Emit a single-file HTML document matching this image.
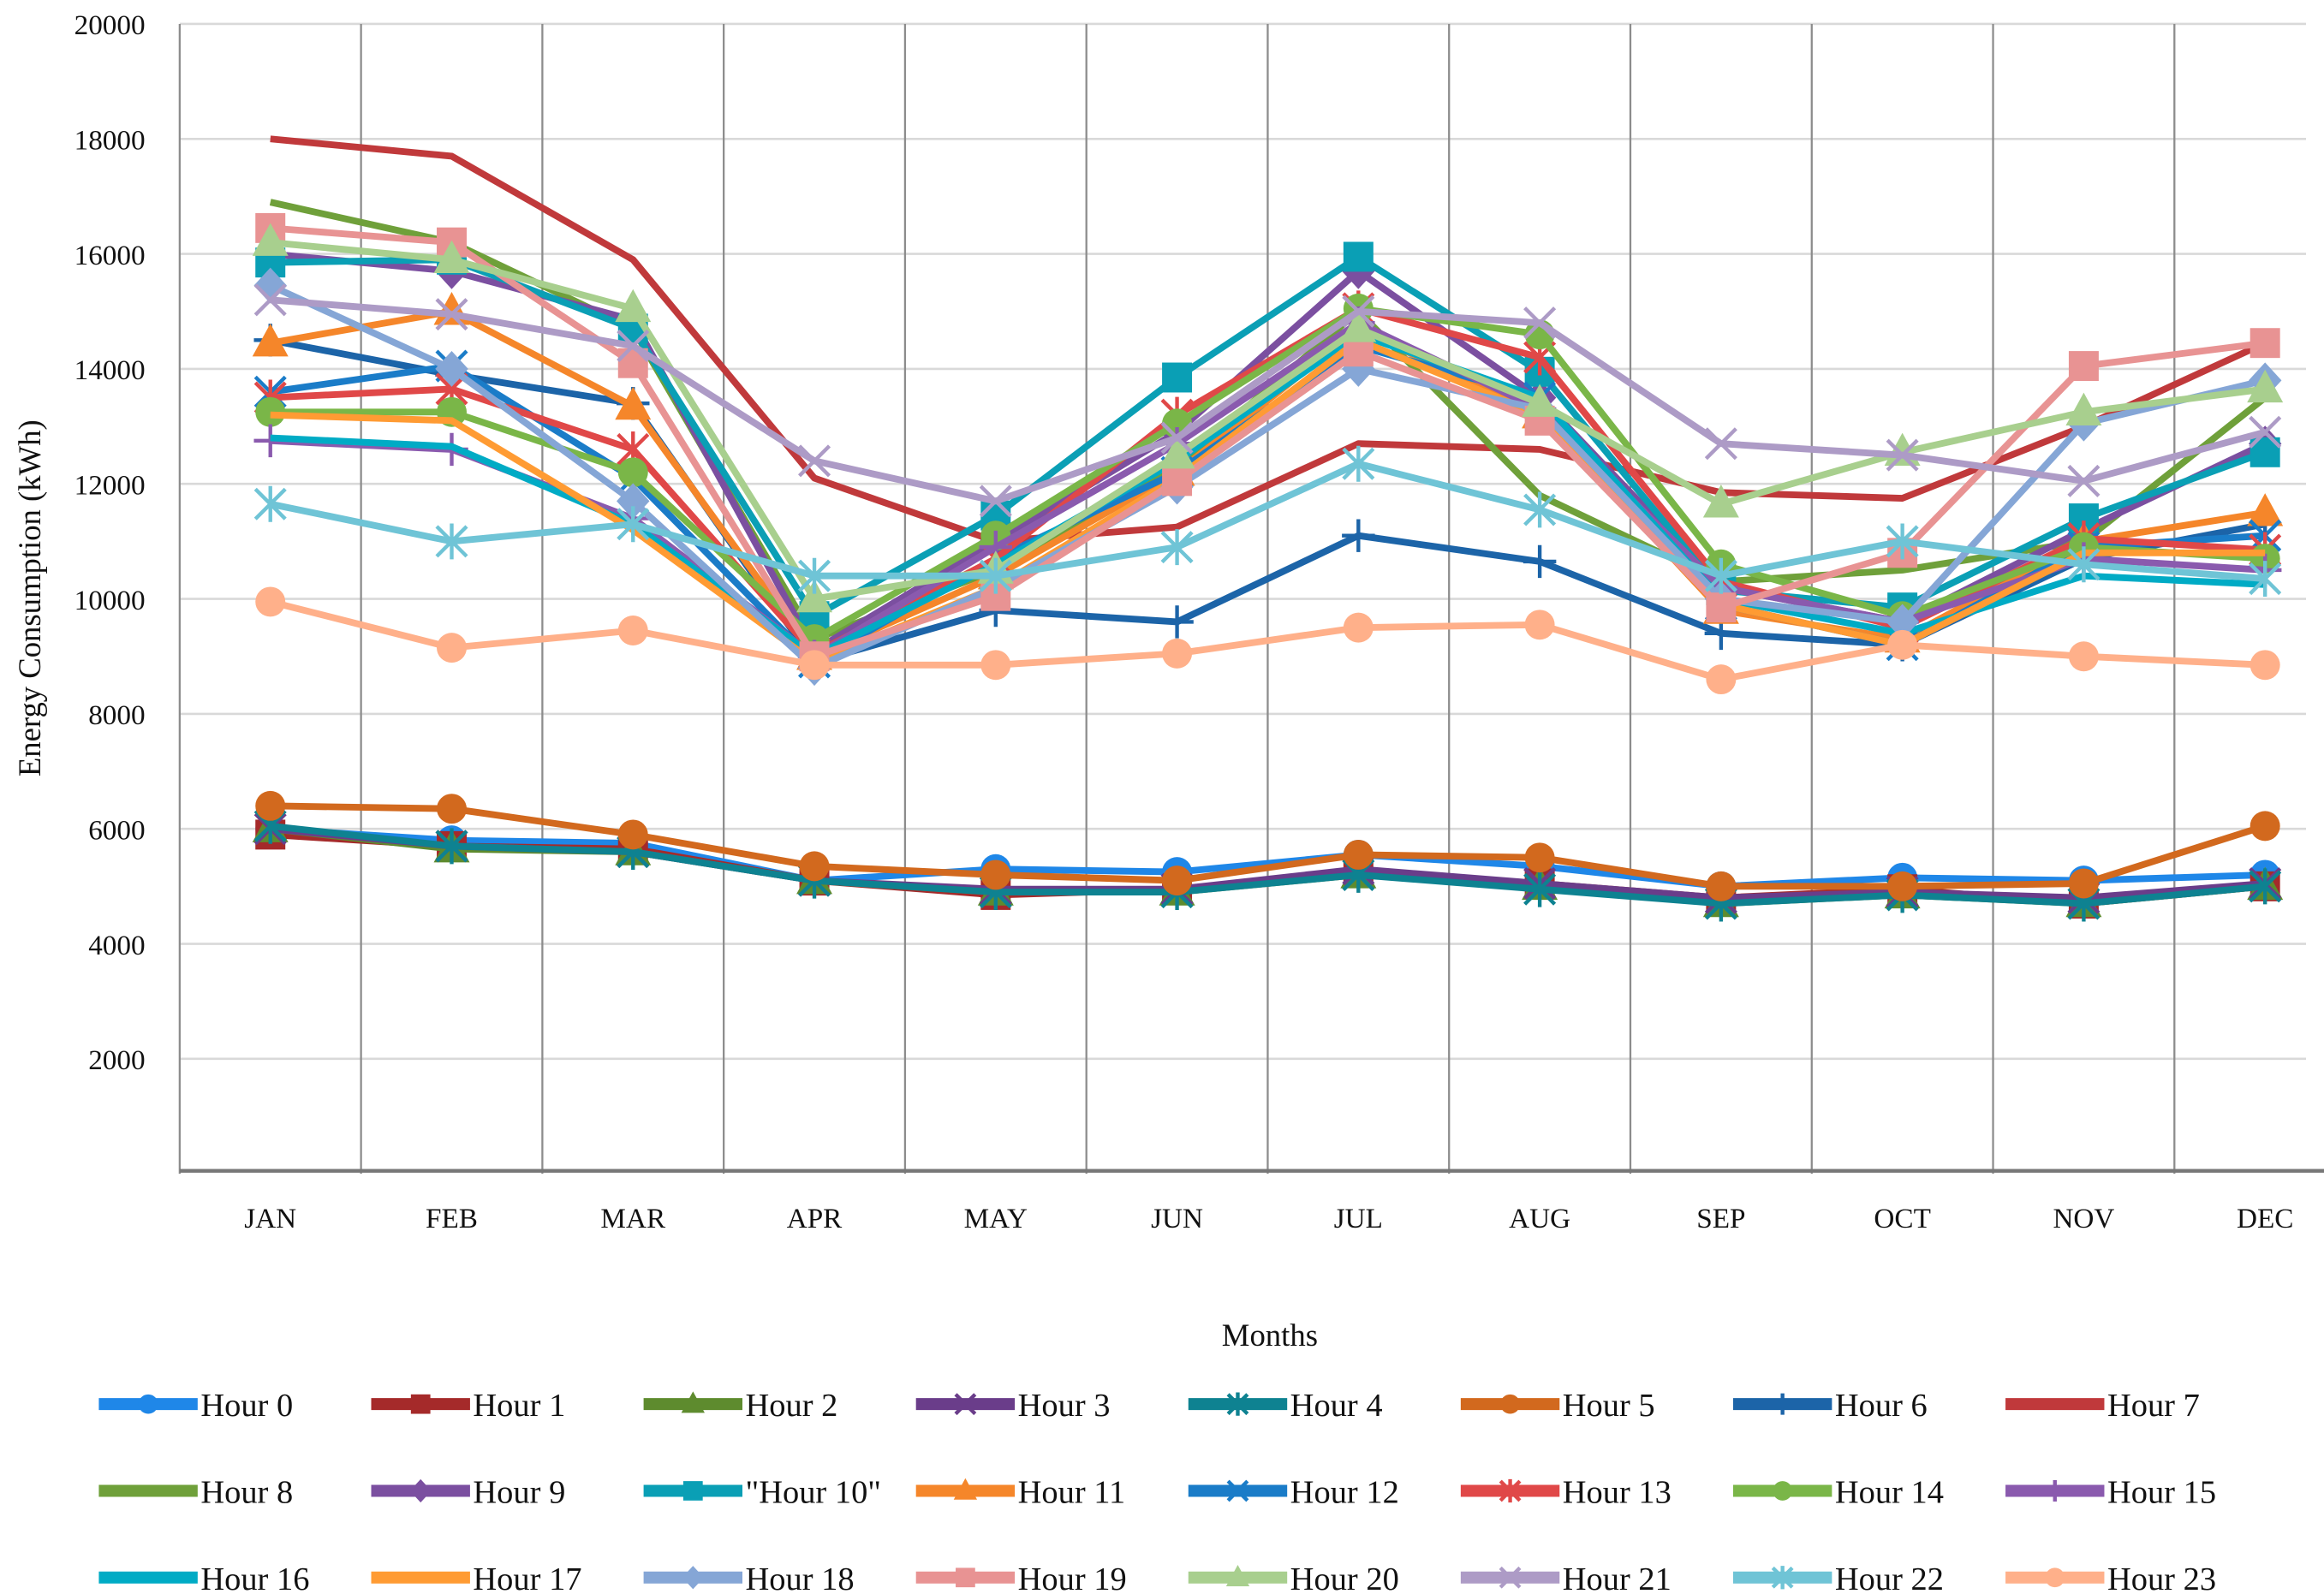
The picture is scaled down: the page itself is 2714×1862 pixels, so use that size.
<!DOCTYPE html>
<html><head><meta charset="utf-8"><style>
html,body{margin:0;padding:0;background:#fff;}
svg{display:block;}
text{font-family:"Liberation Serif",serif;fill:#111;}
</style></head><body>
<svg id="chart" width="2714" height="1862" viewBox="0 0 1552 1066" preserveAspectRatio="none" xmlns="http://www.w3.org/2000/svg">
<g id="grid"></g>
<g id="axes"></g>
<g id="series"></g>
<g id="legend"></g>
<text transform="translate(27,400) rotate(-90)" text-anchor="middle" font-size="21">Energy Consumption (kWh)</text>
<text x="848" y="900" text-anchor="middle" font-size="21">Months</text>
</svg>
<script>
const months = ["JAN","FEB","MAR","APR","MAY","JUN","JUL","AUG","SEP","OCT","NOV","DEC"];
const yTicks = [2000,4000,6000,8000,10000,12000,14000,16000,18000,20000];
const seriesNames = ["Hour 0","Hour 1","Hour 2","Hour 3","Hour 4","Hour 5","Hour 6","Hour 7","Hour 8","Hour 9","\"Hour 10\"","Hour 11","Hour 12","Hour 13","Hour 14","Hour 15","Hour 16","Hour 17","Hour 18","Hour 19","Hour 20","Hour 21","Hour 22","Hour 23"];
const h0 = [6000,5800,5750,5100,5300,5250,5550,5350,5000,5150,5100,5200];
const h1 = [5900,5700,5650,5100,4850,4950,5250,5050,4800,4950,4700,5000];
const h2 = [6000,5650,5600,5100,4900,4900,5200,5000,4700,4850,4700,5000];
const h3 = [6000,5700,5600,5100,4950,4950,5300,5050,4800,4900,4800,5050];
const h4 = [6050,5700,5600,5100,4900,4900,5200,4950,4700,4850,4700,5000];
const h5 = [6400,6350,5900,5350,5200,5100,5550,5500,5000,5000,5050,6050];
const h6 = [14500,13900,13400,8900,9800,9600,11100,10650,9400,9200,10700,11300];
const h7 = [18000,17700,15900,12100,11000,11250,12700,12600,11850,11750,13000,14450];
const h8 = [16900,16200,14700,9300,10500,12300,15000,11800,10300,10500,11000,13500];
const h9 = [16000,15700,14850,9100,11000,12900,15700,13500,10200,9600,11200,12700];
const h10 = [15850,15900,14700,9700,11450,13850,15950,13950,10150,9850,11400,12550];
const h11 = [14450,15000,13350,9000,10400,12200,14700,13200,9800,9300,11000,11500];
const h12 = [13600,14050,12100,8900,10700,12200,14400,13500,9900,9200,10900,11100];
const h13 = [13500,13650,12600,9050,10700,13200,15050,14200,10300,9500,11050,10850];
const h14 = [13250,13250,12200,9300,11100,13050,15050,14600,10600,9700,10900,10700];
const h15 = [12750,12600,11400,9000,10900,12700,14800,13300,10200,9600,10700,10500];
const h16 = [12800,12650,11300,9000,10600,12400,14600,13500,10000,9400,10400,10250];
const h17 = [13200,13100,11200,8900,10200,12100,14500,13200,9900,9200,10800,10800];
const h18 = [15450,14000,11700,8800,10200,11950,14000,13300,10000,9600,13050,13800];
const h19 = [16450,16200,14100,9000,10050,12050,14300,13100,9850,10800,14050,14450];
const h20 = [16200,15900,15050,10000,10500,12500,14700,13400,11650,12550,13250,13650];
const h21 = [15200,14950,14400,12400,11700,12800,15000,14800,12700,12500,12050,12900];
const h22 = [11650,11000,11300,10400,10400,10900,12350,11550,10400,11000,10600,10350];
const h23 = [9950,9150,9450,8850,8850,9050,9500,9550,8600,9200,9000,8850];
const allSeries = [h0,h1,h2,h3,h4,h5,h6,h7,h8,h9,h10,h11,h12,h13,h14,h15,h16,h17,h18,h19,h20,h21,h22,h23];

const colors = ["#1f87e8","#a52a2a","#5e8b2e","#6a3d8a","#0e8291","#d2691e","#1c64a8","#c0393b","#6fa03a","#7b4fa0","#0a9fb5","#f5862a","#1a7cc8","#e04848","#7ab648","#8a5aae","#00abc5","#ff9b33","#85a6d6","#e89393","#a8cf8e","#ad9bc6","#6fc4d6","#ffb08a"];
const markers = ["circle","square","triangle","x","star","circle","plus","none","none","diamond","square","triangle","x","star","circle","plus","none","none","diamond","square","triangle","x","star","circle"];

const NS = "http://www.w3.org/2000/svg";
const L = 120, R = 1540, T = 16, B = 785, STEP = 121.1;
function xScale(i){ return L + STEP*(i+0.5); }
function yScale(v){ return B - (v/20000)*(B-T); }
function mk(tag, attrs, parent){ const e=document.createElementNS(NS,tag); for(const k in attrs) e.setAttribute(k,attrs[k]); parent.appendChild(e); return e; }

const grid = document.getElementById('grid');
yTicks.forEach(v=>{
  const l = mk('line',{x1:L,x2:R,y1:yScale(v),y2:yScale(v),stroke:'#d9d9d9','stroke-width':1.5},grid);
  
  
});
for(let i=0;i<=12;i++){
  const x = L + STEP*i; if(x>R) break;
  const l = mk('line',{x1:x,x2:x,y1:T,y2:B,stroke:'#8c8c8c','stroke-width':1.3},grid);
  
  
}
const axes = document.getElementById('axes');
const xa = mk('line',{x1:L,x2:1552,y1:B-2,y2:B-2,stroke:'#777','stroke-width':2.5},axes);


yTicks.forEach(v=>{
  const t = mk('text',{x:97,y:yScale(v)+7,'text-anchor':'end','font-size':19},axes);
  t.textContent = v;
  
  
});
months.forEach((m,i)=>{
  const t = mk('text',{x:xScale(i),y:821,'text-anchor':'middle','font-size':19},axes);
  t.textContent = m;
  
  
});

function marker(type,x,y,c,g,s){
  s = s||1;
  if(type==='circle') return mk('circle',{cx:x,cy:y,r:10*s,fill:c},g);
  if(type==='square') return mk('rect',{x:x-10*s,y:y-10*s,width:20*s,height:20*s,fill:c},g);
  if(type==='triangle') return mk('polygon',{points:`${x},${y-13*s} ${x+12*s},${y+9*s} ${x-12*s},${y+9*s}`,fill:c},g);
  if(type==='diamond') return mk('polygon',{points:`${x},${y-12*s} ${x+11*s},${y} ${x},${y+12*s} ${x-11*s},${y}`,fill:c},g);
  if(type==='x') return mk('path',{d:`M${x-10*s} ${y-10*s}L${x+10*s} ${y+10*s}M${x+10*s} ${y-10*s}L${x-10*s} ${y+10*s}`,stroke:c,'stroke-width':2.5,fill:'none'},g);
  if(type==='star') return mk('path',{d:`M${x-10*s} ${y-10*s}L${x+10*s} ${y+10*s}M${x+10*s} ${y-10*s}L${x-10*s} ${y+10*s}M${x} ${y-12*s}L${x} ${y+12*s}`,stroke:c,'stroke-width':2.5,fill:'none'},g);
  if(type==='plus') return mk('path',{d:`M${x-11*s} ${y}L${x+11*s} ${y}M${x} ${y-11*s}L${x} ${y+11*s}`,stroke:c,'stroke-width':2.5,fill:'none'},g);
  return null;
}

const sg = document.getElementById('series');
allSeries.forEach((vals,si)=>{
  const g = mk('g',{},sg);
  
  
  const pts = vals.map((v,i)=>xScale(i)+','+yScale(v)).join(' ');
  const pl = mk('polyline',{points:pts,fill:'none',stroke:colors[si],'stroke-width':4.5,'stroke-linejoin':'round'},g);
  
  
  vals.forEach((v,i)=>{
    const m = marker(markers[si],xScale(i),yScale(v),colors[si],g,1);
    if(m){
      
      
    }
  });
});

const lg = document.getElementById('legend');
seriesNames.forEach((n,i)=>{
  const col = i%8, row = Math.floor(i/8);
  const x = 66 + col*181.9, y = 939 + row*58;
  const g = mk('g',{},lg);
  
  
  mk('line',{x1:x,x2:x+66,y1:y,y2:y,stroke:colors[i],'stroke-width':8},g);
  marker(markers[i],x+33,y,colors[i],g,0.65);
  const t = mk('text',{x:x+68,y:y+8,'font-size':22},g);
  t.textContent = n;
});
</script>
</body></html>
